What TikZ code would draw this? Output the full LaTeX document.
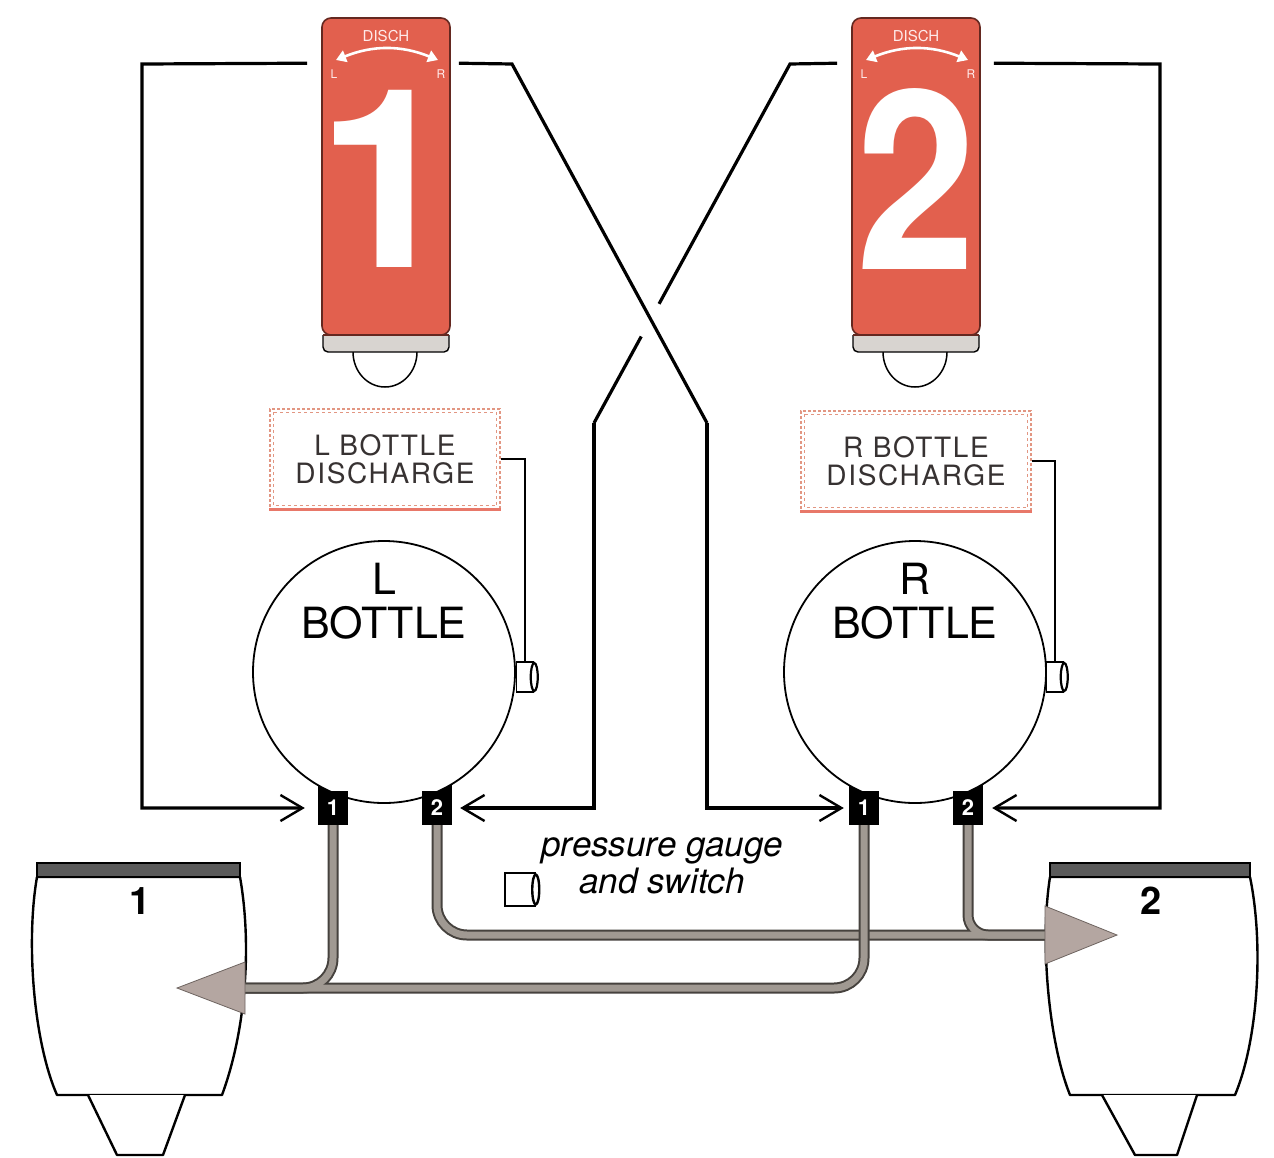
\documentclass[tikz,border=0pt]{standalone}
\usepackage{fontspec}
\setmainfont{TeX Gyre Heros}
\usetikzlibrary{arrows.meta,calc}

\definecolor{handlered}{RGB}{226,96,78}
\definecolor{handleedge}{RGB}{100,40,32}
\definecolor{stripgray}{RGB}{216,212,208}
\definecolor{labborder}{RGB}{226,150,130}
\definecolor{labline}{RGB}{232,120,105}
\definecolor{labtext}{RGB}{55,50,50}
\definecolor{pipegray}{RGB}{160,153,146}
\definecolor{pipeedge}{RGB}{70,66,62}
\definecolor{arrowfill}{RGB}{180,166,161}
\definecolor{arrowedge}{RGB}{110,100,96}
\definecolor{bandgray}{RGB}{90,90,90}

\begin{document}
\begin{tikzpicture}[x=1pt,y=-1pt,
  wire/.style={line width=3.2pt, line join=miter},
  thinwire/.style={line width=1.8pt},
  barb/.style={-{Straight Barb[length=22pt,width=26pt,line width=2.4pt]}},
  handle/.style={draw=handleedge, line width=1.6pt, fill=handlered, rounded corners=9pt,
    minimum width=128pt, minimum height=317pt, inner sep=0pt},
  bignum/.style={text=white, inner sep=0pt, font=\bfseries\fontsize{250}{250}\selectfont},
  tinytext/.style={text=white!92!red, inner sep=0pt, font=\fontsize{15}{15}\selectfont},
  labbox/.style={draw=labborder, densely dashed, line width=1.4pt, fill=white,
    minimum width=230pt, minimum height=100pt, align=center, text=labtext, inner sep=0pt,
    font=\addfontfeatures{LetterSpace=6}\fontsize{28}{28}\selectfont},
  bottle/.style={circle, draw, line width=1.8pt, fill=white, minimum size=262pt, inner sep=0pt},
  bottletext/.style={inner sep=0pt, font=\fontsize{43}{43}\selectfont},
  port/.style={fill=black, minimum width=30pt, minimum height=34pt, inner sep=0pt,
    text=white, font=\bfseries\fontsize{22}{22}\selectfont},
  gauge/.style={draw, line width=1.5pt, fill=white, minimum width=17pt, minimum height=30pt, inner sep=0pt},
  pipeout/.style={draw=pipeedge, line width=11pt},
  pipein/.style={draw=pipegray, line width=7pt},
  enginebody/.style={draw, line width=2.4pt, fill=white, line join=round},
  englabel/.style={inner sep=0pt, font=\bfseries\fontsize{38}{38}\selectfont},
  tipfill/.style={fill=arrowfill, draw=arrowedge, line width=0.8pt}]

\useasboundingbox (0,0) rectangle (1274,1157);
\fill[white] (0,0) rectangle (1274,1157);

% ---------------- discharge handles ----------------
\foreach \cx in {386, 916} {
  \draw[line width=1.5pt, fill=white] (\cx-1,352) ellipse [x radius=32pt, y radius=35pt];
}
\node[handle] (SW1) at (386,176.5) {};
\node[handle] (SW2) at (916,176.5) {};
\foreach \cx in {386, 916} {
  \draw[line width=1.4pt, fill=stripgray, rounded corners=5pt]
    (\cx-63,335) -- (\cx-63,352) -- (\cx+63,352) -- (\cx+63,335);
  \draw[line width=1.4pt, draw=handleedge] (\cx-63,335) -- (\cx+63,335);
  \node[tinytext] at (\cx,36) {DISCH};
  \draw[white, line width=2.6pt, {Triangle[length=10pt,width=12pt]}-{Triangle[length=10pt,width=12pt]}]
    (\cx-50,60) to[bend left=22] (\cx+52,60);
  \node[tinytext, font=\fontsize{12}{12}\selectfont] at (\cx-52,74) {L};
  \node[tinytext, font=\fontsize{12}{12}\selectfont] at (\cx+55,74) {R};
}
\node[bignum] (N1) at (387,179) {1};
\node[bignum, xscale=0.86] (N2) at (916,179) {2};

% ---------------- bottles ----------------
\foreach \cx in {384, 915} {
  \fill (\cx-66,778) rectangle (\cx-36,796);
  \fill (\cx+38,778) rectangle (\cx+68,796);
}
\node[bottle] (LB) at (384,672) {};
\node[bottle] (RB) at (915,672) {};
\node[bottletext] (LBt1) at (384,579) {L};
\node[bottletext] (LBt2) at (384,623) {BOTTLE};
\node[bottletext] (RBt1) at (915,579) {R};
\node[bottletext] (RBt2) at (915,623) {BOTTLE};

\node[port] (L1) at (333,808) {1};
\node[port] (L2) at (437,808) {2};
\node[port] (R1) at (864,808) {1};
\node[port] (R2) at (968,808) {2};

% pressure switches on the bottles
\node[gauge] (LG) at (525,677) {};
\node[gauge] (RG) at (1055,677) {};
\draw[line width=2.2pt, fill=white] (LG.east) ellipse [x radius=3.5pt, y radius=14pt];
\draw[line width=2.2pt, fill=white] (RG.east) ellipse [x radius=3.5pt, y radius=14pt];

% ---------------- indicator labels ----------------
\node[labbox] (LL) at (385,459) {L BOTTLE\\DISCHARGE};
\node[labbox] (RL) at (916,461) {R BOTTLE\\DISCHARGE};
\foreach \n in {LL, RL} {
  \draw[labborder, dashed, line width=0.8pt]
    ([shift={(4pt,-4pt)}]\n.north west) rectangle ([shift={(-4pt,4pt)}]\n.south east);
  \draw[labline, line width=2.6pt] (\n.south west) -- (\n.south east);
}
\draw[thinwire] (LL.east) -| (LG.north);
\draw[thinwire] (RL.east) -| (RG.north);

% ---------------- firing circuits ----------------
\coordinate (lt) at (142,64);
\coordinate (a1) at (512,64);
\coordinate (a2) at (707,423);
\coordinate (b1) at (790,64);
\coordinate (b2) at (594,423);
\coordinate (rt) at (1160,64);

\draw[wire, barb] ([xshift=-14pt,yshift=-46pt]SW1.north west) -- (lt) |- ([xshift=-13pt]L1.west);
\draw[wire] ([xshift=8pt,yshift=-46pt]SW1.north east) -- (a1) -- (a2);
\draw[wire, barb] (a2) |- ([xshift=-5pt]R1.west);
\draw[wire] ([xshift=-14pt,yshift=-46pt]SW2.north west) -- (b1) -- ($(b1)!0.668!(b2)$);
\draw[wire] ($(b1)!0.759!(b2)$) -- (b2);
\draw[wire, barb] (b2) |- ([xshift=8pt]L2.east);
\draw[wire, barb] ([xshift=13pt,yshift=-46pt]SW2.north east) -- (rt) |- ([xshift=9pt]R2.east);

% ---------------- engines ----------------
\draw[enginebody] (37,877) .. controls (26,940) and (33,1040) .. (57,1095) -- (222,1095)
  .. controls (246,1030) and (252,945) .. (240,877) -- cycle;
\draw[fill=bandgray, line width=1.2pt] (37,863) rectangle (240,877);
\draw[enginebody] (88,1095) -- (117,1155) -- (163,1155) -- (185,1095);
\node[englabel] (E1) at (140,901) {1};

\draw[enginebody] (1050,877) .. controls (1040,940) and (1048,1040) .. (1070,1095) -- (1235,1095)
  .. controls (1258,1040) and (1264,945) .. (1250,877) -- cycle;
\draw[fill=bandgray, line width=1.2pt] (1050,863) rectangle (1250,877);
\draw[enginebody] (1102,1095) -- (1135,1155) -- (1177,1155) -- (1197,1095);
\node[englabel] (E2) at (1151,901) {2};

% ---------------- discharge pipes ----------------
\coordinate (e1base) at (245,988);
\coordinate (e1tip) at (177,988);
\coordinate (e2base) at (1045,935);
\coordinate (e2tip) at (1117,935);

% bottle port 2 lines to engine 2
\draw[pipeout, rounded corners=30pt] (L2.south) |- (e2base);
\draw[pipeout, rounded corners=20pt] (R2.south) |- (e2base);
\draw[pipein, rounded corners=30pt] (L2.south) |- (e2base);
\draw[pipein, rounded corners=20pt] (R2.south) |- (e2base);
% bottle port 1 lines to engine 1
\draw[pipeout, rounded corners=30pt] (L1.south) |- (e1base);
\draw[pipeout, rounded corners=30pt] (R1.south) |- (e1base);
\draw[pipein, rounded corners=30pt] (L1.south) |- (e1base);
\draw[pipein, rounded corners=30pt] (R1.south) |- (e1base);

\filldraw[tipfill] ([yshift=26pt]e1base) -- (e1tip) -- ([yshift=-26pt]e1base) -- cycle;
\filldraw[tipfill] ([yshift=29pt]e2base) -- (e2tip) -- ([yshift=-29pt]e2base) -- cycle;

% ---------------- legend ----------------
\node[gauge, minimum width=30pt, minimum height=33pt] (PG) at (520,889.5) {};
\draw[line width=2.4pt, fill=white] (PG.east) ellipse [x radius=3.5pt, y radius=15pt];
\node[inner sep=0pt, align=center, font=\itshape\fontsize{35}{37}\selectfont] (PGt) at (662,866)
  {pressure gauge\\and switch};

\end{tikzpicture}
\end{document}
